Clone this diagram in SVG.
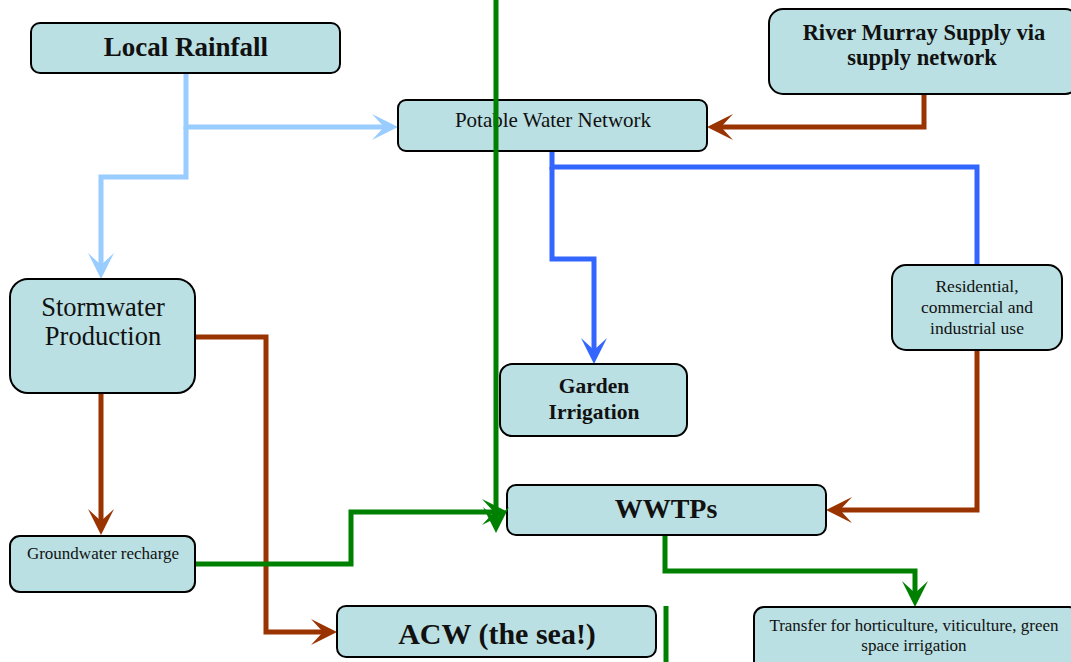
<svg xmlns="http://www.w3.org/2000/svg" width="1071" height="662" viewBox="0 0 1071 662">
<style>
.box{fill:#BAE0E3;stroke:#000;stroke-width:2}
.t{font-family:'Liberation Serif','DejaVu Serif',serif;fill:#111;text-anchor:middle}
.b{font-weight:bold}
.c{fill:none;stroke-width:5;stroke-linejoin:miter}
.lb{stroke:#99CCFF}.bl{stroke:#3366FF}.br{stroke:#993300}.gr{stroke:#008000}
</style>
<defs>
<marker id="aLB" markerUnits="userSpaceOnUse" viewBox="-20 -15 32 30" refX="0" refY="0" markerWidth="32" markerHeight="30" orient="auto"><path d="M10 0 L-16 -13 L-4 0 L-16 13 Z" fill="#99CCFF"/></marker>
<marker id="aBL" markerUnits="userSpaceOnUse" viewBox="-20 -15 32 30" refX="0" refY="0" markerWidth="32" markerHeight="30" orient="auto"><path d="M10 0 L-16 -13 L-4 0 L-16 13 Z" fill="#3366FF"/></marker>
<marker id="aBR" markerUnits="userSpaceOnUse" viewBox="-20 -15 32 30" refX="0" refY="0" markerWidth="32" markerHeight="30" orient="auto"><path d="M10 0 L-16 -13 L-4 0 L-16 13 Z" fill="#993300"/></marker>
<marker id="aGR" markerUnits="userSpaceOnUse" viewBox="-20 -15 32 30" refX="0" refY="0" markerWidth="32" markerHeight="30" orient="auto"><path d="M10 0 L-16 -13 L-4 0 L-16 13 Z" fill="#008000"/></marker>
</defs>
<rect width="1071" height="662" fill="#fff"/>
<g id="connectors">
<path class="c lb" d="M186 73 V127 H388" marker-end="url(#aLB)"/>
<path class="c lb" d="M186 127 V177 H101 V269" marker-end="url(#aLB)"/>
<path class="c br" d="M924 94 V127 H717" marker-end="url(#aBR)"/>
<path class="c bl" d="M552 151 V167 H977 V265"/>
<path class="c bl" d="M552 167 V259 H594 V354" marker-end="url(#aBL)"/>
<path class="c br" d="M101 393 V525" marker-end="url(#aBR)"/>
<path class="c br" d="M195 337 H266 V632 H327" marker-end="url(#aBR)"/>
<path class="c gr" d="M195 564 H351 V512 H498" marker-end="url(#aGR)"/>
<path class="c br" d="M977 350 V510 H836" marker-end="url(#aBR)"/>
<path class="c gr" d="M665 535 V571 H915 V597" marker-end="url(#aGR)"/>
<path class="c gr" d="M666 606 V662"/>
</g>
<g id="local-rainfall"><rect class="box" x="31" y="23" width="309" height="50" rx="9"/><text class="t b" x="186" y="56" font-size="27">Local Rainfall</text></g>
<g id="potable"><rect class="box" x="398" y="100" width="309" height="51" rx="8"/><text class="t" x="553" y="127" font-size="21">Potable Water Network</text></g>
<g id="river-murray"><rect class="box" x="769" y="9" width="310" height="85" rx="14"/><text class="t b" x="924" y="40" font-size="22.5">River Murray Supply via</text><text class="t b" x="922" y="65" font-size="22.5">supply network</text></g>
<g id="stormwater"><rect class="box" x="10" y="279" width="185" height="114" rx="18"/><text class="t" x="103" y="316" font-size="26.5">Stormwater</text><text class="t" x="103" y="345" font-size="26.5">Production</text></g>
<g id="groundwater"><rect class="box" x="10" y="536" width="185" height="56" rx="10"/><text class="t" x="103" y="559" font-size="17">Groundwater recharge</text></g>
<g id="garden"><rect class="box" x="500" y="364" width="187" height="72" rx="12"/><text class="t b" x="594" y="393" font-size="21.5">Garden</text><text class="t b" x="594" y="419" font-size="21.5">Irrigation</text></g>
<g id="residential"><rect class="box" x="892" y="265" width="170" height="85" rx="14"/><text class="t" x="977" y="292" font-size="17.5">Residential,</text><text class="t" x="977" y="313" font-size="17.5">commercial and</text><text class="t" x="977" y="334" font-size="17.5">industrial use</text></g>
<g id="wwtps"><rect class="box" x="507" y="485" width="319" height="50" rx="9"/><text class="t b" x="666" y="518" font-size="28">WWTPs</text></g>
<g id="acw"><rect class="box" x="337" y="606" width="319" height="51" rx="9"/><text class="t b" x="497" y="644" font-size="30">ACW (the sea!)</text></g>
<g id="transfer"><rect class="box" x="754" y="607" width="325" height="65" rx="10"/><text class="t" x="914" y="631" font-size="17">Transfer for horticulture, viticulture, green</text><text class="t" x="914" y="651" font-size="17">space irrigation</text></g>
<g id="green-line"><path class="c gr" d="M496 0 V523" marker-end="url(#aGR)"/></g>
</svg>
